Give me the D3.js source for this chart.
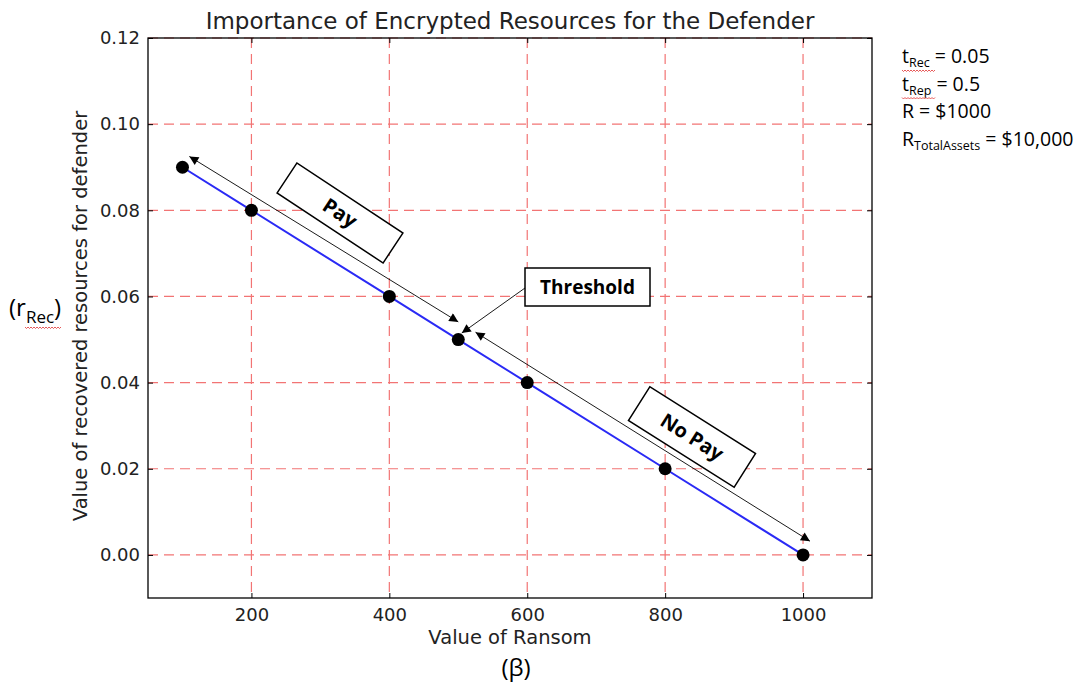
<!DOCTYPE html>
<html>
<head>
<meta charset="utf-8">
<script src="https://cdn.jsdelivr.net/npm/d3@7"></script>
<style>
  body { margin: 0; background: #fff; }
  svg { display: block; }
</style>
</head>
<body>
<script>
const width = 1086;
const height = 685;

// data
const ransom = [100, 200, 400, 500, 600, 800, 1000];
const recovered = [0.09, 0.08, 0.06, 0.05, 0.04, 0.02, 0.0];
const xTicks = [200, 400, 600, 800, 1000];
const yTicks = [0.0, 0.02, 0.04, 0.06, 0.08, 0.10, 0.12];
const params = [
  ["t", "Rec", " = 0.05"],
  ["t", "Rep", " = 0.5"],
  ["R = $1000", "", ""],
  ["R", "TotalAssets", " = $10,000"]
];

const margin = { top: 38, right: 214, bottom: 87, left: 148 };
const plotW = width - margin.left - margin.right;
const plotH = height - margin.top - margin.bottom;

const x = d3.scaleLinear().domain([50, 1100]).range([0, plotW]);
const y = d3.scaleLinear().domain([-0.01, 0.12]).range([plotH, 0]);

const svg = d3.select("body").append("svg")
  .attr("width", width)
  .attr("height", height)
  .attr("font-family", "DejaVu Sans, sans-serif");

const defs = svg.append("defs");
defs.append("marker")
  .attr("id", "head")
  .attr("viewBox", "0 0 10 10")
  .attr("refX", 10).attr("refY", 5)
  .attr("markerWidth", 12).attr("markerHeight", 9)
  .attr("markerUnits", "userSpaceOnUse")
  .attr("orient", "auto-start-reverse")
  .append("path").attr("d", "M0,0L10,5L0,10Z").attr("fill", "#000");

const g = svg.append("g").attr("transform", `translate(${margin.left},${margin.top})`);

// grid
const gridColor = "#f27474";
g.append("g").selectAll("line").data(xTicks).join("line")
  .attr("x1", d => x(d)).attr("x2", d => x(d))
  .attr("y1", 0).attr("y2", plotH)
  .attr("stroke", gridColor).attr("stroke-dasharray", "10,6").attr("stroke-width", 1.2);
g.append("g").selectAll("line").data(yTicks).join("line")
  .attr("y1", d => y(d)).attr("y2", d => y(d))
  .attr("x1", 0).attr("x2", plotW)
  .attr("stroke", gridColor).attr("stroke-dasharray", "10,6").attr("stroke-width", 1.2);

// axes (ticks inside, matplotlib style)
const xAxis = g.append("g").attr("transform", `translate(0,${plotH})`)
  .call(d3.axisBottom(x).tickValues(xTicks).tickSize(-5).tickPadding(10).tickFormat(d3.format("d")));
const yAxis = g.append("g")
  .call(d3.axisLeft(y).tickValues(yTicks).tickSize(-5).tickPadding(8).tickFormat(d3.format(".2f")));
g.append("g").call(d3.axisTop(x).tickValues(xTicks).tickSize(-5).tickFormat(""));
g.append("g").attr("transform", `translate(${plotW},0)`)
  .call(d3.axisRight(y).tickValues(yTicks).tickSize(-5).tickFormat(""));
g.selectAll(".domain").remove();
g.selectAll(".tick line").attr("stroke", "#000");
[xAxis, yAxis].forEach(a => a.selectAll("text")
  .attr("font-size", 18).attr("fill", "#222").attr("font-family", "DejaVu Sans, sans-serif"));

g.append("rect").attr("width", plotW).attr("height", plotH)
  .attr("fill", "none").attr("stroke", "#000").attr("stroke-width", 1.3);

// series
const pts = ransom.map((r, i) => [r, recovered[i]]);
g.append("path").datum(pts)
  .attr("d", d3.line().x(d => x(d[0])).y(d => y(d[1])))
  .attr("fill", "none").attr("stroke", "#2a2af5").attr("stroke-width", 2);
g.append("g").selectAll("circle").data(pts).join("circle")
  .attr("cx", d => x(d[0])).attr("cy", d => y(d[1])).attr("r", 6.5).attr("fill", "#000");

// annotations
const arrows = [
  { from: [500, 0.0541], to: [110, 0.0925], both: true },
  { from: [525, 0.0517], to: [1010, 0.0032], both: true }
];
arrows.forEach(a => {
  g.append("line")
    .attr("x1", x(a.from[0])).attr("y1", y(a.from[1]))
    .attr("x2", x(a.to[0])).attr("y2", y(a.to[1]))
    .attr("stroke", "#000").attr("stroke-width", 0.9)
    .attr("marker-start", a.both ? "url(#head)" : null)
    .attr("marker-end", "url(#head)");
});

// threshold callout
const thBox = { x0: 525, x1: 650, y0: 268, y1: 306 };
svg.append("line")
  .attr("x1", thBox.x0).attr("y1", 288)
  .attr("x2", x(505) + margin.left).attr("y2", y(0.0515) + margin.top)
  .attr("stroke", "#000").attr("stroke-width", 0.9).attr("marker-end", "url(#head)");
svg.append("rect").attr("x", thBox.x0).attr("y", thBox.y0)
  .attr("width", thBox.x1 - thBox.x0).attr("height", thBox.y1 - thBox.y0)
  .attr("fill", "#fff").attr("stroke", "#000").attr("stroke-width", 1.5);
svg.append("text").attr("x", (thBox.x0 + thBox.x1) / 2).attr("y", 294)
  .attr("text-anchor", "middle").attr("font-family", "Open Sans, sans-serif")
  .attr("font-weight", "bold").attr("font-size", 19).text("Threshold");

const tilted = [
  { label: "Pay", cx: 340, cy: 213, w: 127, h: 36, angle: 33.4 },
  { label: "No Pay", cx: 692, cy: 437, w: 125, h: 40, angle: 32.3 }
];
tilted.forEach(t => {
  const tg = svg.append("g").attr("transform", `translate(${t.cx},${t.cy}) rotate(${t.angle})`);
  tg.append("rect").attr("x", -t.w / 2).attr("y", -t.h / 2).attr("width", t.w).attr("height", t.h)
    .attr("fill", "#fff").attr("stroke", "#000").attr("stroke-width", 1.5);
  tg.append("text").attr("y", 7).attr("text-anchor", "middle")
    .attr("font-family", "Open Sans, sans-serif").attr("font-weight", "bold")
    .attr("font-size", 20).text(t.label);
});

// titles
svg.append("text").attr("x", margin.left + plotW / 2).attr("y", 29)
  .attr("text-anchor", "middle").attr("font-size", 23).attr("fill", "#222")
  .text("Importance of Encrypted Resources for the Defender");
svg.append("text").attr("x", margin.left + plotW / 2).attr("y", 644)
  .attr("text-anchor", "middle").attr("font-size", 19.5).attr("fill", "#222")
  .text("Value of Ransom");
svg.append("text").attr("transform", `translate(87,${margin.top + plotH / 2 - 2}) rotate(-90)`)
  .attr("text-anchor", "middle").attr("font-size", 19.5).attr("fill", "#222")
  .text("Value of recovered resources for defender");

const sideFont = "Open Sans, sans-serif";
svg.append("text").attr("x", 516).attr("y", 676).attr("text-anchor", "middle")
  .attr("font-family", sideFont).attr("font-size", 24).text("(β)");

function wavy(x0, x1, yy) {
  let d = `M${x0},${yy}`;
  for (let xx = x0; xx < x1; xx += 3) d += `L${xx + 1.5},${yy + 1.5}L${xx + 3},${yy}`;
  return d;
}

const rRec = svg.append("text").attr("x", 9).attr("y", 316)
  .attr("font-family", sideFont).attr("font-size", 24);
rRec.append("tspan").text("(r");
rRec.append("tspan").attr("font-size", 17).attr("dy", 7).text("Rec");
rRec.append("tspan").attr("dy", -7).text(")");
svg.append("path").attr("d", wavy(25, 60, 327)).attr("fill", "none").attr("stroke", "#e03030").attr("stroke-width", 0.8);

params.forEach((p, i) => {
  const baseY = 63 + i * 27.5;
  const t = svg.append("text").attr("x", 902).attr("y", baseY)
    .attr("font-family", sideFont).attr("font-size", 19.5);
  t.append("tspan").text(p[0]);
  if (p[1]) {
    t.append("tspan").attr("font-size", 12.5).attr("dy", 4).text(p[1]);
    t.append("tspan").attr("dy", -4).text(p[2]);
  }
  if (p[0] === "t") {
    svg.append("path").attr("d", wavy(902, 933, baseY + 7)).attr("fill", "none")
      .attr("stroke", "#e03030").attr("stroke-width", 0.8);
  }
});
</script>
</body>
</html>
